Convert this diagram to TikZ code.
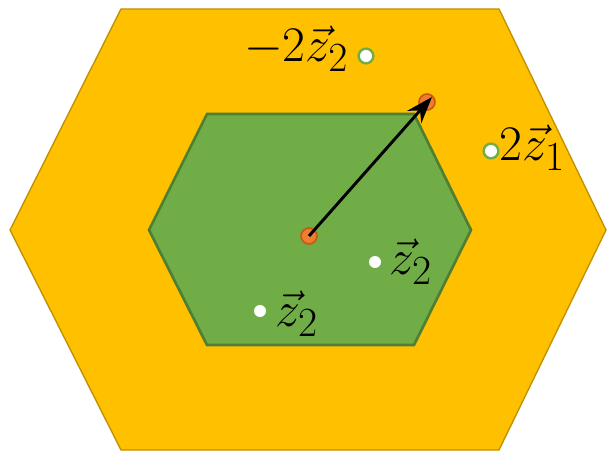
\documentclass[tikz,border=0pt]{standalone}
\usepackage{amsmath}
\usepackage{graphicx}
\usepackage{tikz}
\usetikzlibrary{arrows.meta,positioning}
\definecolor{hexorange}{HTML}{FFC000}
\definecolor{hexorangeline}{HTML}{BF9000}
\definecolor{hexgreen}{HTML}{70AD47}
\definecolor{hexgreenline}{HTML}{507E32}
\definecolor{siteorange}{HTML}{ED7D31}
\definecolor{siteorangeline}{HTML}{C55A11}
\tikzset{
  vecarrow/.style={-{Stealth[length=20pt,width=14pt]}, line width=2.2pt},
  origin/.style={circle, fill=siteorange, draw=siteorangeline, line width=1.2pt, minimum size=12pt, inner sep=0pt},
  shiftsite/.style={circle, fill=white, draw=hexgreen, line width=1.8pt, minimum size=11pt, inner sep=0pt},
  cellsite/.style={circle, fill=white, minimum size=9pt, inner sep=0pt},
  vlabel/.style={font=\Huge, inner sep=1pt}
}
\newcommand{\biglab}[1]{\scalebox{1.5}{$#1$}}

\begin{document}
\begin{tikzpicture}[x=0.75pt, y=-0.75pt]

  % canvas
  \useasboundingbox (0,0) rectangle (607,452);

  % outer hexagon
  \filldraw[fill=hexorange, draw=hexorangeline, line width=1pt]
    (121,9) -- (499,9) -- (606,230) -- (499,450) -- (121,450) -- (10,230) -- cycle;

  % inner hexagon
  \filldraw[fill=hexgreen, draw=hexgreenline, line width=2pt]
    (207,114) -- (414,114) -- (471,230) -- (414,345) -- (207,345) -- (149,230) -- cycle;

  % sites inside the cell
  \foreach \x/\y/\n in {
    375/262/a,
    260/311/b
  }{
    \node[cellsite] (c\n) at (\x,\y) {};
  }
  \node[vlabel, anchor=west] (la) at (388,262) {\biglab{\vec{z}_2}};
  \node[vlabel, anchor=west] (lb) at (274,314) {\biglab{\vec{z}_2}};

  % shifted sites
  \node[shiftsite] (s2) at (366,56) {};
  \node[shiftsite] (s1) at (491,151) {};
  \node[vlabel, anchor=east] (l2) at (350,49) {\biglab{-2\vec{z}_2}};
  \node[vlabel, anchor=west] (l1) at (498,148) {\biglab{2\vec{z}_1}};

  % origin and target
  \node[origin] (o) at (309,236) {};
  \node[origin] (p) at (427,102) {};
  \draw[vecarrow] (o.center) -- ([shift={(5,-5)}]p.center);

\end{tikzpicture}
\end{document}
